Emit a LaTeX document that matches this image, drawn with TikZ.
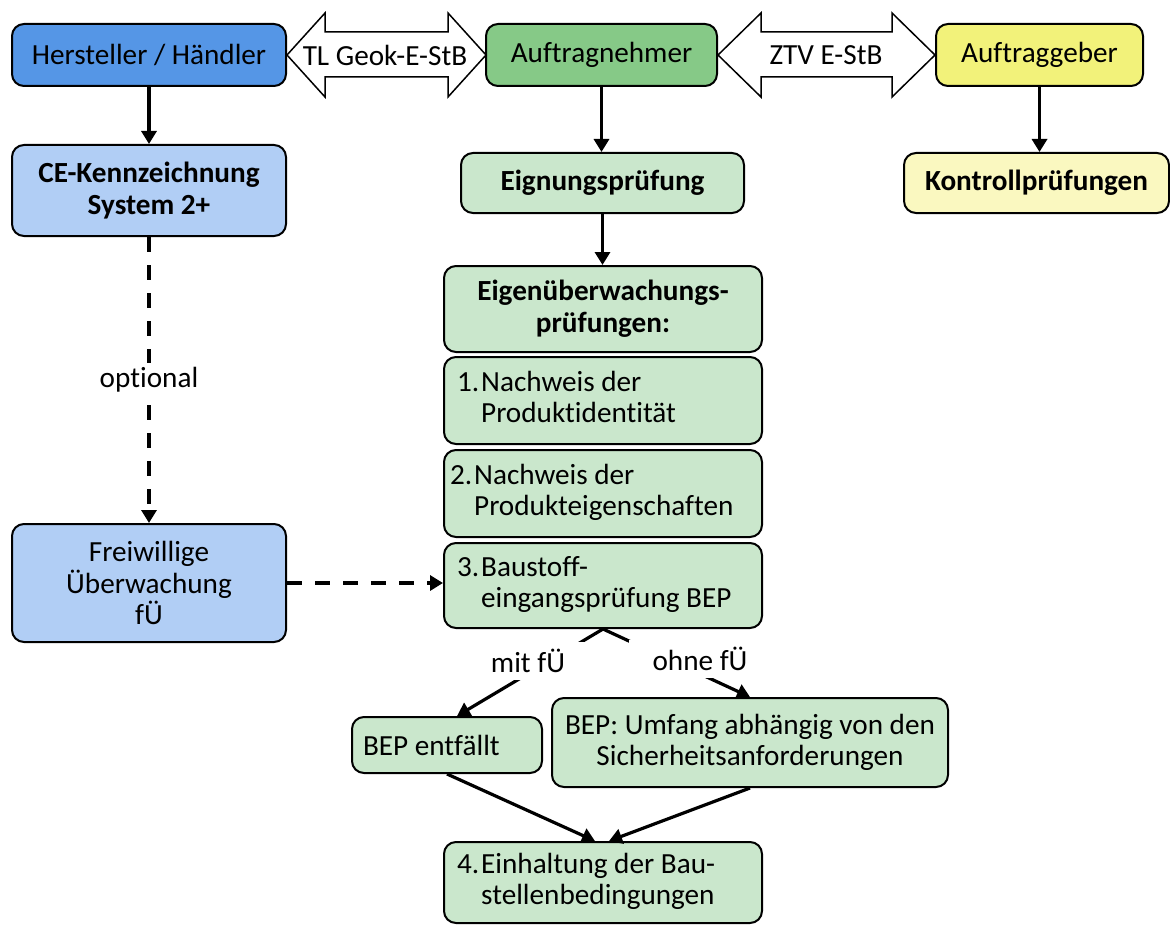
\documentclass[tikz,border=0pt]{standalone}
\usepackage{fontspec}
\setmainfont{Carlito}[Ligatures=NoCommon]
\usepackage{tikz}
\usetikzlibrary{arrows.meta, positioning}
\definecolor{HerstBlue}{HTML}{5596E6}
\definecolor{LightBlue}{HTML}{B1CEF5}
\definecolor{AtnGreen}{HTML}{86C987}
\definecolor{LightGreen}{HTML}{CAE7CC}
\definecolor{AtgYellow}{HTML}{F2F27A}
\definecolor{LightYellow}{HTML}{FAF8C0}
\newcommand{\numitem}[3]{\begin{tabular}{@{}l@{\hspace{1pt}}l@{}}#1 & #2\\ & #3\end{tabular}}
\tikzset{
  box/.style={draw=black, line width=1pt, rounded corners=6pt, align=center, inner sep=0pt},
  lst/.style={box, fill=LightGreen, align=flush left, minimum width=159pt, text width=146pt, inner xsep=6.5pt},
  flow/.style={line width=1.6pt, -{Triangle[length=6.5pt,width=7.5pt]}},
  optflow/.style={flow, dash pattern=on 7.5pt off 6.5pt},
  dblarrow/.style={draw=black, line width=0.75pt, fill=white, line join=miter},
  tag/.style={fill=white, inner xsep=12pt, inner ysep=3.5pt}
}

\begin{document}
\begin{tikzpicture}[x=0.5pt,y=-0.5pt,font=\fontsize{14.6}{15.8}\selectfont]
\useasboundingbox (0,0) rectangle (1170,925);
% top row
\node[box,fill=HerstBlue,minimum width=137pt,minimum height=31pt] (hst) at (149,55) {Hersteller / Händler};
\node[box,fill=AtnGreen,minimum width=115.5pt,minimum height=31pt] (atn) at (601.5,55) {Auftragnehmer};
\node[box,fill=AtgYellow,minimum width=103.5pt,minimum height=31pt] (atg) at (1039.5,55) {Auftraggeber};
\draw[dblarrow] (hst.east) -- ++(38,-42) -- ++(0,19) -- ++(123,0) -- ++(0,-19) -- ++(38,42)
  -- ++(-38,42) -- ++(0,-20) -- ++(-123,0) -- ++(0,20) -- cycle;
\draw[dblarrow] (atn.east) -- ++(43,-42) -- ++(0,19) -- ++(131,0) -- ++(0,-19) -- ++(43,42)
  -- ++(-43,42) -- ++(0,-20) -- ++(-131,0) -- ++(0,20) -- cycle;
\node (tl) at (385,55) {TL Geok-E-StB};
\node (ztv) at (826,55) {ZTV E-StB};
% left column
\node[box,fill=LightBlue,minimum width=137pt,minimum height=45.5pt,font=\fontsize{14.6}{15.8}\selectfont\bfseries] (ce) at (149,190.5) {CE-Kennzeichnung\\System 2+};
\node[box,fill=LightBlue,minimum width=137pt,minimum height=59pt] (fue) at (149,583) {Freiwillige\\Überwachung\\fÜ};
% middle column
\node[box,fill=LightGreen,minimum width=141.5pt,minimum height=30pt,font=\fontsize{14.6}{15.8}\selectfont\bfseries] (eig) at (602.5,183) {Eignungsprüfung};
\node[box,fill=LightGreen,minimum width=159pt,minimum height=43pt,font=\fontsize{14.6}{15.8}\selectfont\bfseries] (euw) at (603,309) {Eigenüberwachungs-\\prüfungen:};
\node[lst,minimum height=43.5pt] (p1) at (603,400.5) {\numitem{1.}{Nachweis der}{Produktidentität}};
\node[lst,minimum height=43.5pt,inner xsep=3pt,text width=153pt] (p2) at (603,493.5) {\numitem{2.}{Nachweis der}{Produkteigenschaften}};
\node[lst,minimum height=42.5pt] (p3) at (603,585.5) {\numitem{3.}{Baustoff-}{eingangsprüfung BEP}};
\node[lst,minimum height=40.5pt] (p4) at (603,882.5) {\numitem{4.}{Einhaltung der Bau-}{stellenbedingungen}};
\node[box,fill=LightGreen,minimum width=95pt,minimum height=28pt,align=flush left,text width=84pt,inner xsep=5.5pt] (bep0) at (447,745) {BEP entfällt};
\node[box,fill=LightGreen,minimum width=198pt,minimum height=44.5pt] (bepu) at (750,742.5) {BEP: Umfang abhängig von den\\Sicherheitsanforderungen};
% right column
\node[box,fill=LightYellow,minimum width=132.5pt,minimum height=30pt,font=\fontsize{14.6}{15.8}\selectfont\bfseries] (kon) at (1036.5,183) {Kontrollprüfungen};
% connectors
\draw[flow] (hst) -- (ce);
\draw[flow] (atn.south) -- (atn.south |- eig.north);
\draw[flow] (atg.south) -- (atg.south |- kon.north);
\draw[flow] (eig) -- (eig.south |- euw.north);
\draw[optflow] (ce) -- node[tag,inner xsep=3pt,inner ysep=2.5pt] (opt) {optional} (fue);
\draw[optflow] (fue.east) -- (fue.east -| p3.west);
\draw[flow] (p3.south) -- ([xshift=5pt]bep0.north);
\draw[flow] (p3.south) -- (bepu.north);
\node[tag] (mit) at (528,661) {mit fÜ};
\node[tag] (ohne) at (700,659) {ohne fÜ};
\draw[flow] (bep0.south) -- ([xshift=-4pt]p4.north);
\draw[flow] (bepu.south) -- ([xshift=3pt]p4.north);
\end{tikzpicture}
\end{document}
